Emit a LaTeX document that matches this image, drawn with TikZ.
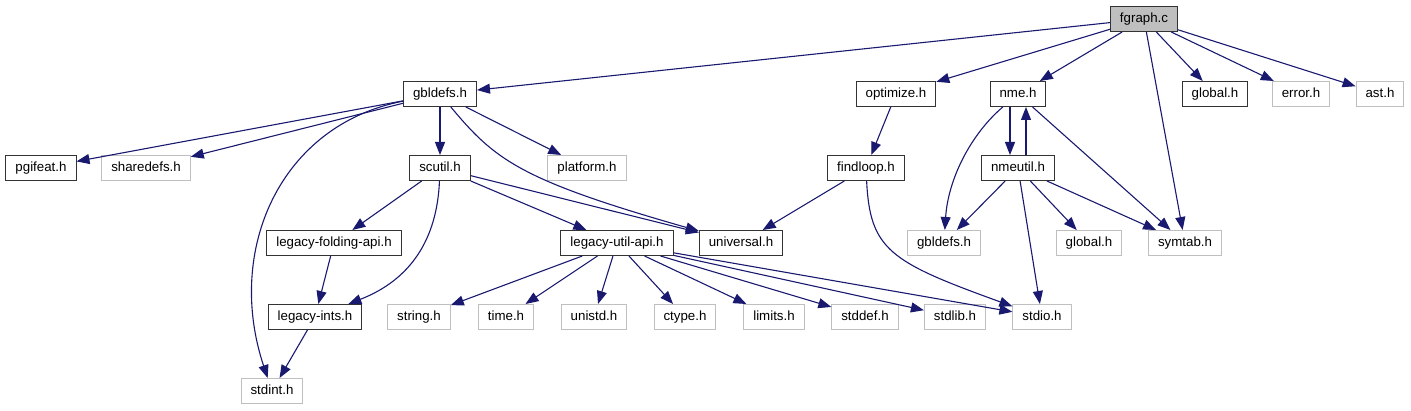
\documentclass[tikz,border=0pt]{standalone}
\usepackage{fontspec}
\setmainfont{Liberation Sans}
\usepackage{xcolor}
\usepackage{tikz}
\usetikzlibrary{arrows.meta, positioning}
\definecolor{edgeblue}{RGB}{25,25,112}
\definecolor{boxgrey}{RGB}{191,191,191}

\begin{document}
\begin{tikzpicture}[
    x=1pt, y=-1pt,
    hdr/.style={rectangle, draw=black!80, line width=1pt, fill=white, minimum height=25pt, inner xsep=9.5pt, inner ysep=0pt, text height=9.6pt, text depth=2.8pt, font=\fontsize{13.3}{16}\selectfont},
    syshdr/.style={hdr, draw=boxgrey, line width=1pt},
    srcfile/.style={hdr, fill=boxgrey},
    arrow/.style={-{Triangle[length=13pt, width=10pt]}, edgeblue, line width=1.1pt}
]
\useasboundingbox (0,0) rectangle (1411,411);

% Nodes
\node[srcfile] (fgraph) at (1144,19) {fgraph.c};
\node[hdr] (gbldefs) at (440,94) {gbldefs.h};
\node[hdr] (optimize) at (896,94) {optimize.h};
\node[hdr] (nme) at (1018,94) {nme.h};
\node[hdr] (global) at (1215,94) {global.h};
\node[syshdr] (error) at (1301,94) {error.h};
\node[syshdr] (ast) at (1380,94) {ast.h};
\node[hdr] (pgifeat) at (41,168) {pgifeat.h};
\node[syshdr] (sharedefs) at (146,168) {sharedefs.h};
\node[hdr] (scutil) at (440,168) {scutil.h};
\node[syshdr] (platform) at (587,168) {platform.h};
\node[hdr] (findloop) at (866,168) {findloop.h};
\node[hdr] (nmeutil) at (1018,168) {nmeutil.h};
\node[hdr] (foldapi) at (334,243) {legacy-folding-api.h};
\node[hdr] (utilapi) at (617,243) {legacy-util-api.h};
\node[hdr] (universal) at (741,243) {universal.h};
\node[syshdr] (gbldefsb) at (944,243) {gbldefs.h};
\node[syshdr] (globalb) at (1089,243) {global.h};
\node[syshdr] (symtab) at (1185,243) {symtab.h};
\node[hdr] (ints) at (315,317) {legacy-ints.h};
\node[syshdr] (string) at (419,317) {string.h};
\node[syshdr] (time) at (506,317) {time.h};
\node[syshdr] (unistd) at (594,317) {unistd.h};
\node[syshdr] (ctype) at (685,317) {ctype.h};
\node[syshdr] (limits) at (774,317) {limits.h};
\node[syshdr] (stddef) at (865,317) {stddef.h};
\node[syshdr] (stdlib) at (955,317) {stdlib.h};
\node[syshdr] (stdio) at (1042,317) {stdio.h};
\node[syshdr] (stdint) at (272,391) {stdint.h};

% Arrows
\draw[arrow] (fgraph) -- (gbldefs);
\draw[arrow] (fgraph) -- (optimize);
\draw[arrow] (fgraph) -- (nme);
\draw[arrow] (fgraph) -- (symtab);
\draw[arrow] (fgraph) -- (global);
\draw[arrow] (fgraph) -- (error);
\draw[arrow] (fgraph) -- (ast);
\draw[arrow] (gbldefs) -- (pgifeat);
\draw[arrow] (gbldefs) -- (sharedefs);
\draw[arrow] (gbldefs) .. controls (280,125) and (225,250) .. (stdint);
\draw[arrow] (gbldefs) -- (scutil);
\draw[arrow] (gbldefs) -- (platform);
\draw[arrow] (gbldefs) .. controls (495,160) and (520,180) .. (universal);
\draw[arrow] (scutil) -- (universal);
\draw[arrow] (scutil) -- (foldapi);
\draw[arrow] (scutil) .. controls (437,240) and (410,280) .. (ints);
\draw[arrow] (scutil) -- (utilapi);
\draw[arrow] (foldapi) -- (ints);
\draw[arrow] (ints) -- (stdint);
\draw[arrow] (utilapi) -- (string);
\draw[arrow] (utilapi) -- (time);
\draw[arrow] (utilapi) -- (unistd);
\draw[arrow] (utilapi) -- (ctype);
\draw[arrow] (utilapi) -- (limits);
\draw[arrow] (utilapi) -- (stddef);
\draw[arrow] (utilapi) -- (stdlib);
\draw[arrow] (utilapi) -- (stdio);
\draw[arrow] (optimize) -- (findloop);
\draw[arrow] (findloop) -- (universal);
\draw[arrow] (findloop) .. controls (870,250) and (890,262) .. (stdio);
\draw[arrow] ([xshift=-8pt]nme.south) -- ([xshift=-8pt]nmeutil.north);
\draw[arrow] ([xshift=8pt]nmeutil.north) -- ([xshift=8pt]nme.south);
\draw[arrow] (nme) .. controls (970,135) and (948,180) .. (gbldefsb);
\draw[arrow] (nme) -- (symtab);
\draw[arrow] (nmeutil) -- (gbldefsb);
\draw[arrow] (nmeutil) -- (globalb);
\draw[arrow] (nmeutil) -- (symtab);
\draw[arrow] (nmeutil) -- (stdio);

\end{tikzpicture}
\end{document}
